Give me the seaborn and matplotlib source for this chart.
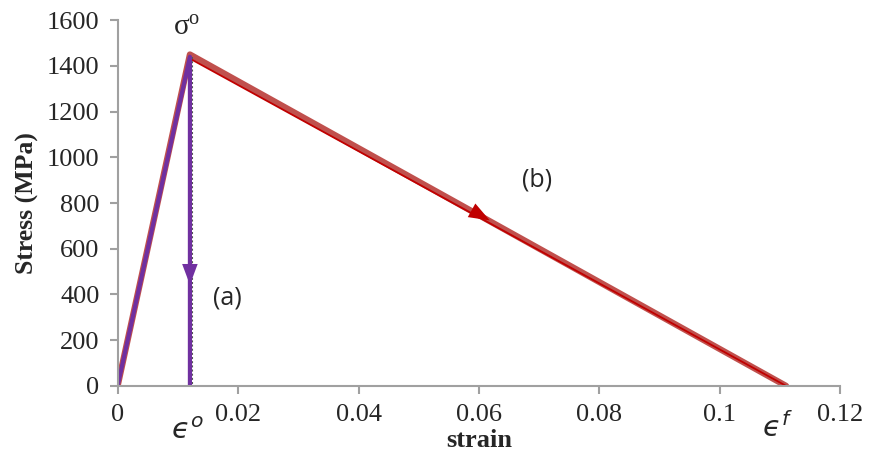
import matplotlib
matplotlib.use("Agg")
import matplotlib.pyplot as plt
import seaborn as sns
import pandas as pd

# Data
strain_b = [0.0, 0.012, 0.111]
stress_b = [0, 1450, 0]
strain_b_thin = [0.0, 0.012, 0.111]
stress_b_thin = [0, 1432, 0]
strain_a = [0.0, 0.012, 0.012]
stress_a = [0, 1440, 0]
strain_dot = [0.0123, 0.0123]
stress_dot = [1440, 0]
x_ticks = [0, 0.02, 0.04, 0.06, 0.08, 0.10, 0.12]
x_tick_labels = ["0", "0.02", "0.04", "0.06", "0.08", "0.1", "0.12"]
y_ticks = [0, 200, 400, 600, 800, 1000, 1200, 1400, 1600]
arrow_a = (0.012, 430)
arrow_b = (0.0622, 718)

sns.set_style("white")
plt.rcParams['font.family'] = ['Liberation Serif', 'DejaVu Serif']

fig = plt.figure(figsize=(8.78, 4.70), dpi=100)
ax = fig.add_axes([0.134, 0.179, 0.823, 0.778])

df_b = pd.DataFrame({"x": strain_b, "y": stress_b})
df_bt = pd.DataFrame({"x": strain_b_thin, "y": stress_b_thin})
df_a = pd.DataFrame({"x": strain_a, "y": stress_a})
df_d = pd.DataFrame({"x": strain_dot, "y": stress_dot})

sns.lineplot(data=df_b, x="x", y="y", sort=False, ax=ax, color="#C0504D", lw=4.5, estimator=None)
sns.lineplot(data=df_bt, x="x", y="y", sort=False, ax=ax, color="#C00000", lw=1.3, estimator=None)
sns.lineplot(data=df_d, x="x", y="y", sort=False, ax=ax, color="#555555", lw=1.5, ls=(0, (1, 1)), estimator=None)
sns.lineplot(data=df_a, x="x", y="y", sort=False, ax=ax, color="#7030A0", lw=3, estimator=None)

# arrowheads
ax.annotate("", xy=arrow_a, xytext=(arrow_a[0], arrow_a[1] + 60),
            arrowprops=dict(arrowstyle="-|>,head_width=0.28,head_length=0.75", color="#7030A0",
                            lw=0, mutation_scale=20))
slope = (stress_b[2] - stress_b[1]) / (strain_b[2] - strain_b[1])
ax.annotate("", xy=arrow_b, xytext=(arrow_b[0] - 0.003, arrow_b[1] - 0.003 * slope),
            arrowprops=dict(arrowstyle="-|>,head_width=0.28,head_length=0.75", color="#C00000",
                            lw=0, mutation_scale=20))

ax.set_xlim(0, 0.12)
ax.set_ylim(0, 1600)
ax.set_xticks(x_ticks)
ax.set_xticklabels(x_tick_labels)
ax.set_yticks(y_ticks)
ax.tick_params(axis="both", labelsize=19, direction="out", length=6, width=1.5, color="#A0A0A0",
               bottom=True, left=True, pad=7)
for s in ["top", "right"]:
    ax.spines[s].set_visible(False)
for s in ["left", "bottom"]:
    ax.spines[s].set_color("#A0A0A0")
    ax.spines[s].set_linewidth(1.5)

ax.set_xlabel("strain", fontsize=19, fontweight="bold", labelpad=2)
ax.set_ylabel("Stress (MPa)", fontsize=18.5, fontweight="bold", labelpad=6)

ax.text(0.0115, 1565, r"$\mathregular{\sigma^o}$", fontsize=21, ha="center", va="center")
ax.text(0.0183, 385, "(a)", fontsize=18, family=["Open Sans", "DejaVu Sans"], ha="center", va="center")
ax.text(0.0697, 900, "(b)", fontsize=18, family=["Open Sans", "DejaVu Sans"], ha="center", va="center")
ax.text(0.0115, -200, "$\u03f5^o$", fontsize=21, ha="center", va="center", clip_on=False)
ax.text(0.1095, -185, "$\u03f5^f$", fontsize=21, ha="center", va="center", clip_on=False)

fig.savefig("out.png", dpi=100)
